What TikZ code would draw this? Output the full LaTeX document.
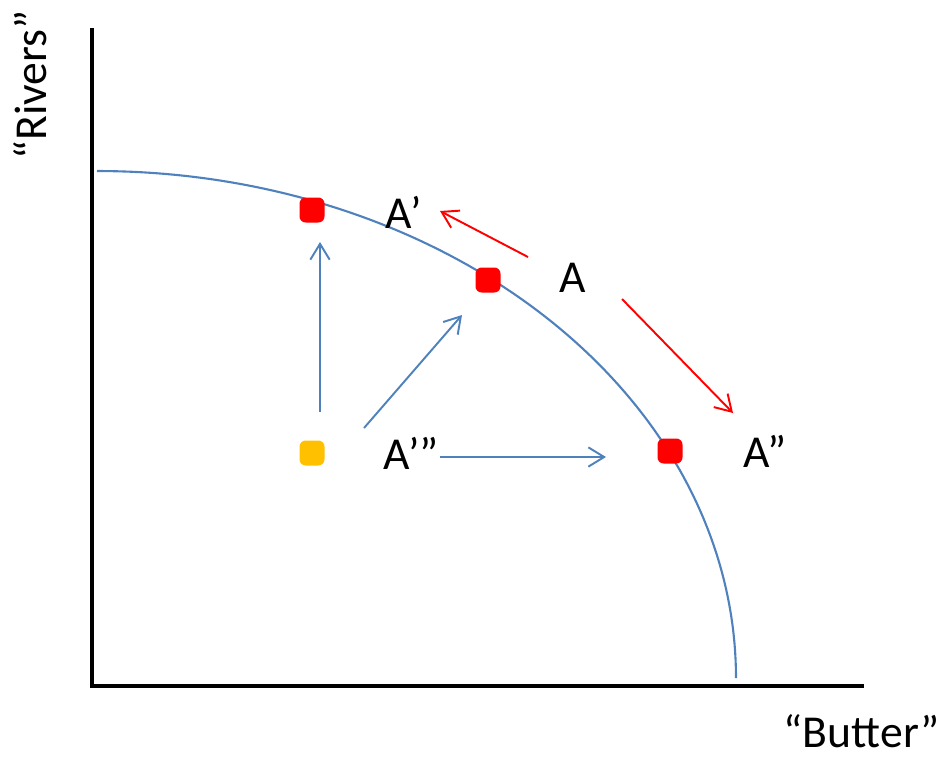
\documentclass[tikz,border=0pt]{standalone}
\usepackage{fontspec}
\setmainfont{Carlito}
\usetikzlibrary{arrows.meta}
\definecolor{ppfBlue}{HTML}{4F81BD}
\definecolor{ppfRed}{HTML}{FF0000}
\definecolor{ppfGold}{HTML}{FFC000}
\tikzset{
  ppf diagram/.style={
    x=0.02cm, y=-0.02cm,
    >={Straight Barb[length=9pt,width=11pt]},
    every node/.style={font=\fontsize{26}{31}\selectfont,
      text=black, inner sep=0pt, outer sep=0pt}
  },
  ppf axis/.style={draw=black, line width=2.4pt},
  ppf curve/.style={draw=ppfBlue, line width=1.2pt},
  ppf dot/.style={rounded corners=3.5pt, minimum size=0.5cm},
  ppf move/.style={->, draw=ppfRed, line width=1.1pt},
  ppf shift/.style={->, draw=ppfBlue, line width=1.1pt}
}

\begin{document}
\begin{tikzpicture}[ppf diagram]
    \useasboundingbox (0,0) rectangle (949,758);
    % axes
    \coordinate (ytop) at (92,28);
    \coordinate (origin) at (92,686);
    \coordinate (xend) at (864,686);
    \draw[ppf axis] (ytop) -- (origin) -- (xend);
    \node[rotate=90] (ylab) at (30,85) {“Rivers”};
    \node (xlab) at (862,731) {“Butter”};
    % frontier
    \draw[ppf curve] plot[domain=0:90,samples=90]
      ({97+639*cos(\x)},{678-507*sin(\x)});
    % points
    \node[ppf dot, fill=ppfRed] (ptA1) at (312,210) {};
    \node[ppf dot, fill=ppfRed] (ptA) at (488,280) {};
    \node[ppf dot, fill=ppfRed] (ptA2) at (670,451) {};
    \node[ppf dot, fill=ppfGold] (ptA3) at (312,453) {};
    \node (labA1) at (404,212) {A’};
    \node (labA) at (573,278) {A};
    \node (labA2) at (765,451) {A”};
    \node (labA3) at (411,453) {A’”};
    % moves along the frontier
    \coordinate (mvL0) at (528,257);
    \coordinate (mvL1) at (440,211);
    \coordinate (mvR0) at (622,299);
    \coordinate (mvR1) at (733,413);
    \draw[ppf move] (mvL0) -- (mvL1);
    \draw[ppf move] (mvR0) -- (mvR1);
    % moves from the inside point
    \coordinate (up0) at (320,412);
    \coordinate (up1) at (320,242);
    \coordinate (dg0) at (364,428);
    \coordinate (dg1) at (462,315);
    \coordinate (rt0) at (440,457);
    \coordinate (rt1) at (606,457);
    \draw[ppf shift] (up0) -- (up1);
    \draw[ppf shift] (dg0) -- (dg1);
    \draw[ppf shift] (rt0) -- (rt1);
\end{tikzpicture}
\end{document}
